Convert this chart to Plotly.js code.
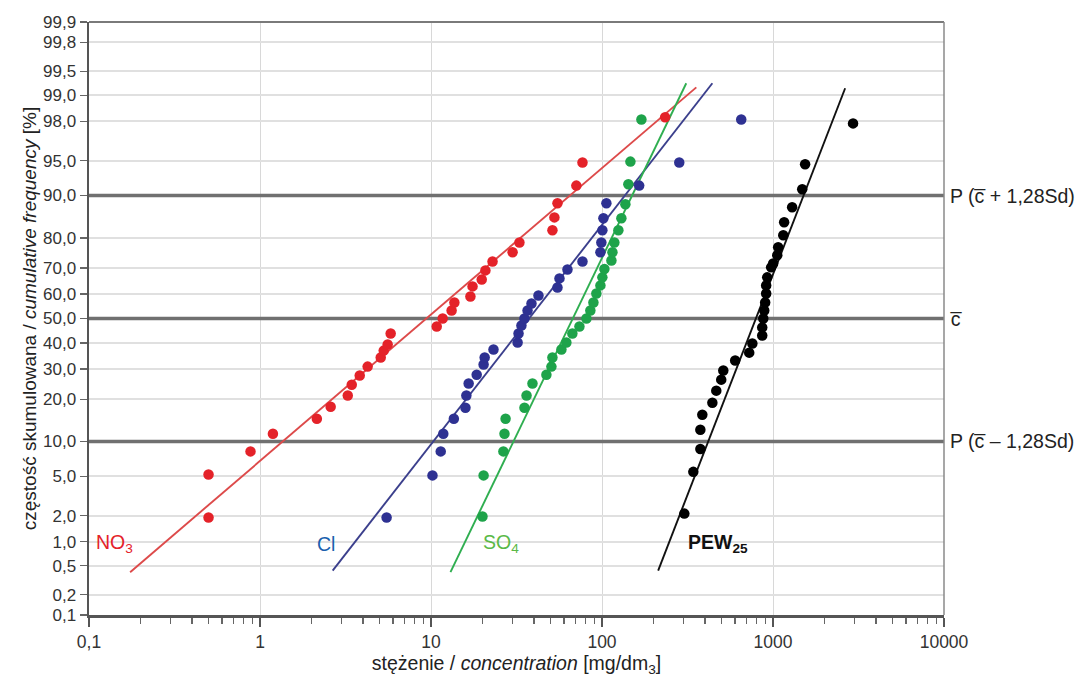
<!DOCTYPE html>
<html>
<head>
<meta charset="utf-8">
<script src="https://cdn.plot.ly/plotly-3.0.1.min.js"></script>
<style>html,body{margin:0;padding:0;background:#fff;}#chart{width:1087px;height:678px;}</style>
</head>
<body>
<div id="chart"></div>
<script>
// ---- data ----
const no3Conc = [0.5,0.5,0.88,1.19,2.15,2.59,3.26,3.44,3.83,4.26,5.08,5.29,5.58,5.81,10.8,11.7,13.2,13.7,17.0,17.5,19.8,20.8,22.9,30.0,32.9,51.3,52.7,54.9,70.8,76.9,234];
const no3Pct  = [1.9,5.2,8.3,11.5,14.8,17.9,21.1,24.5,27.6,30.8,34.2,36.9,39.3,43.8,46.7,50.0,53.3,56.6,59.1,63.1,65.8,69.2,72.4,75.5,78.6,82.1,85.4,88.5,91.7,94.8,98.2];
const clConc  = [5.5,10.2,11.4,11.8,13.6,15.9,16.1,16.6,18.5,20.3,20.6,23.2,32.1,32.5,33.8,35.2,36.7,38.7,42.5,54.9,56.4,62.8,76.9,97.9,99.1,100.5,101.9,106.1,165,283,652];
const clPct   = [1.9,5.1,8.3,11.5,14.8,17.6,21.1,24.9,27.9,31.6,34.2,37.3,40.1,43.8,47.1,50.0,53.3,56.2,59.5,62.7,66.2,69.5,72.4,75.5,78.6,82.1,85.2,88.5,91.7,94.8,98.1];
const so4Conc = [20.0,20.3,26.5,26.9,27.3,35.2,36.2,39.2,47.3,50.6,51.3,57.9,61.9,67.1,73.8,81.1,85.5,89.1,92.7,97.9,100.5,103.3,113.5,115.1,118.1,124.7,129.8,137.0,142.6,146.6,170];
const so4Pct  = [1.95,5.1,8.3,11.5,14.8,17.6,21.1,24.9,27.9,30.8,34.2,37.3,40.1,43.8,46.7,50.0,53.3,56.6,60.3,63.5,66.6,69.7,72.7,75.5,78.6,82.1,85.2,88.3,91.9,94.9,98.1];
const pewConc = [303,342,376,376,386,442,466,498,512,601,726,757,865,865,877,889,900,912,912,925,975,1002,1059,1072,1148,1162,1294,1482,1541,2939];
const pewPct  = [2.1,5.5,8.7,12.3,15.8,19.0,22.6,26.2,29.4,33.1,36.1,39.7,43.0,46.3,50.0,53.3,56.6,60.3,63.5,66.6,70.3,71.7,74.5,77.1,80.7,84.2,87.7,91.1,94.6,97.9];

const no3FitConc = [0.174, 356];  const no3FitPct = [0.41, 99.2];
const clFitConc  = [2.66, 442];   const clFitPct  = [0.43, 99.29];
const so4FitConc = [13.0, 311];   const so4FitPct = [0.41, 99.29];
const pewFitConc = [213, 2642];   const pewFitPct = [0.43, 99.18];

const yTickPct  = [0.1,0.2,0.5,1,2,5,10,20,30,40,50,60,70,80,90,95,98,99,99.5,99.8,99.9];
const yTickText = ["0,1","0,2","0,5","1,0","2,0","5,0","10,0","20,0","30,0","40,0","50,0","60,0","70,0","80,0","90,0","95,0","98,0","99,0","99,5","99,8","99,9"];
const xTickVals = [0.1,1,10,100,1000,10000];
const xTickText = ["0,1","1","10","100","1000","10000"];

const refPct    = [10, 50, 90];
const refLabels = ["P (c\u0305 \u2013 1,28Sd)", "c\u0305", "P (c\u0305 + 1,28Sd)"];

const seriesLabels = ["NO<sub>3</sub>", "Cl", "SO<sub>4</sub>", "<b>PEW<sub>25</sub></b>"];
const labelConc = [0.111, 2.18, 20.3, 324];
const labelPct = 0.94;

// ---- normal probability scale ----
function normInv(p){
  const a=[-3.969683028665376e+01,2.209460984245205e+02,-2.759285104469687e+02,1.383577518672690e+02,-3.066479806614716e+01,2.506628277459239e+00];
  const b=[-5.447609879822406e+01,1.615858368580409e+02,-1.556989798598866e+02,6.680131188771972e+01,-1.328068155288572e+01];
  const c=[-7.784894002430293e-03,-3.223964580411365e-01,-2.400758277161838e+00,-2.549732539343734e+00,4.374664141464968e+00,2.938163982698783e+00];
  const d=[7.784695709041462e-03,3.224671290700398e-01,2.445134137142996e+00,3.754408661907416e+00];
  const pl=0.02425, ph=1-pl; let q,r;
  if(p<pl){q=Math.sqrt(-2*Math.log(p));return (((((c[0]*q+c[1])*q+c[2])*q+c[3])*q+c[4])*q+c[5])/((((d[0]*q+d[1])*q+d[2])*q+d[3])*q+1);}
  if(p<=ph){q=p-0.5;r=q*q;return (((((a[0]*r+a[1])*r+a[2])*r+a[3])*r+a[4])*r+a[5])*q/(((((b[0]*r+b[1])*r+b[2])*r+b[3])*r+b[4])*r+1);}
  q=Math.sqrt(-2*Math.log(1-p));return -(((((c[0]*q+c[1])*q+c[2])*q+c[3])*q+c[4])*q+c[5])/((((d[0]*q+d[1])*q+d[2])*q+d[3])*q+1);
}
const z = arr => arr.map(p => normInv(p/100));

const colors = {no3:'#e42229', cl:'#2e3192', so4:'#1ea34a', pew:'#000000'};
const lineColors = {no3:'#dd4a4a', cl:'#3b3f8c', so4:'#2fae50', pew:'#111111'};
const labelColors = ['#e42229', '#1a5fae', '#5ab947', '#111111'];

function pts(x, y, col){ return {x:x, y:z(y), type:'scatter', mode:'markers', marker:{color:col, size:10.5}, hoverinfo:'skip', showlegend:false, cliponaxis:false}; }
function fit(x, y, col){ return {x:x, y:z(y), type:'scatter', mode:'lines', line:{color:col, width:1.9}, hoverinfo:'skip', showlegend:false}; }

// thick reference lines (10 %, 50 %, 90 %) across the full x range
const xEnds = [xTickVals[0], xTickVals[xTickVals.length-1]];
const refTraces = refPct.map(p => ({x:xEnds, y:[normInv(p/100), normInv(p/100)], type:'scatter', mode:'lines', line:{color:'#707070', width:3.5}, hoverinfo:'skip', showlegend:false}));

const traces = refTraces.concat([
  fit(no3FitConc, no3FitPct, lineColors.no3),
  fit(clFitConc, clFitPct, lineColors.cl),
  fit(so4FitConc, so4FitPct, lineColors.so4),
  fit(pewFitConc, pewFitPct, lineColors.pew),
  pts(no3Conc, no3Pct, colors.no3),
  pts(clConc, clPct, colors.cl),
  pts(so4Conc, so4Pct, colors.so4),
  pts(pewConc, pewPct, colors.pew)
]);

// minor log ticks
const minorVals = [];
for (let e = -1; e < 4; e++) for (let m = 2; m <= 9; m++) minorVals.push(m * Math.pow(10, e));

const annotations = refPct.map((p,i) => ({xref:'paper', x:1, xanchor:'left', xshift:4, yref:'y', y:normInv(p/100), yanchor:'middle', text:refLabels[i], showarrow:false, font:{size:19.5, color:'#222'}}));
seriesLabels.forEach((t,i) => annotations.push({xref:'x', x:Math.log10(labelConc[i]), xanchor:'left', xshift:-3, yref:'y', y:normInv(labelPct/100), yanchor:'middle', text:t, showarrow:false, font:{size:19.5, color:labelColors[i]}}));

const layout = {
  width:1087, height:678,
  margin:{l:89, r:143, t:22, b:63},
  paper_bgcolor:'#fff', plot_bgcolor:'#fff',
  font:{family:'"Liberation Sans", Arial, sans-serif', size:16, color:'#333'},
  showlegend:false,
  xaxis:{type:'log', range:[-1,4], tickmode:'array', tickvals:xTickVals, ticktext:xTickText,
    ticks:'outside', ticklen:9, tickwidth:1.5, tickcolor:'#555',
    showgrid:true, gridcolor:'#d8d8d8', gridwidth:1,
    showline:true, linecolor:'#555', linewidth:2.5, mirror:false, zeroline:false,
    tickfont:{size:17.5, color:'#333'},
    minor:{tickmode:'array', tickvals:minorVals, ticks:'outside', ticklen:6, tickwidth:1.3, tickcolor:'#666', showgrid:false},
    title:{text:'stężenie / <i>concentration</i> [mg/dm<sub>3</sub>]', font:{size:19.5, color:'#222'}, standoff:6}},
  yaxis:{range:[normInv(0.001), normInv(0.999)], tickmode:'array', tickvals:z(yTickPct), ticktext:yTickText,
    ticks:'outside', ticklen:7, tickwidth:1.5, tickcolor:'#666',
    showgrid:true, gridcolor:'#e0e0e0', gridwidth:2,
    showline:true, linecolor:'#555', linewidth:2.5, zeroline:false,
    tickfont:{size:17, color:'#333'},
    title:{text:'częstość skumulowana / <i>cumulative frequency</i> [%]', font:{size:19, color:'#222'}, standoff:2}},
  shapes:[
    {type:'line', xref:'paper', x0:0, x1:1, yref:'paper', y0:1, y1:1, line:{color:'#7a7a7a', width:2}},
    {type:'line', xref:'paper', x0:1, x1:1, yref:'paper', y0:0, y1:1, line:{color:'#8a8a8a', width:1.5}}
  ],
  annotations:annotations
};

Plotly.newPlot('chart', traces, layout, {displayModeBar:false, staticPlot:true});
</script>
</body>
</html>
